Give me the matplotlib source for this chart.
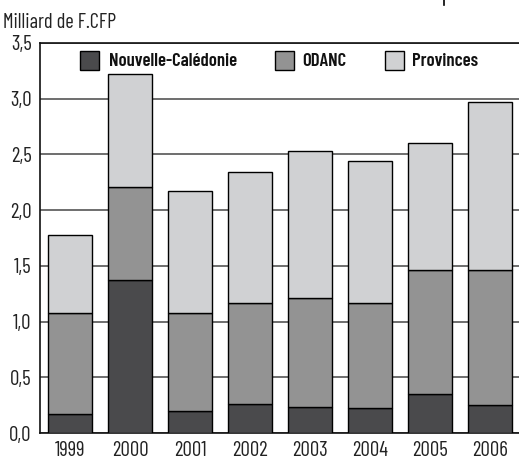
import matplotlib
matplotlib.use("Agg")
import matplotlib.pyplot as plt
from matplotlib.patches import Rectangle
from matplotlib import font_manager

years = ["1999", "2000", "2001", "2002", "2003", "2004", "2005", "2006"]
nouvelle_caledonie = [0.17, 1.37, 0.20, 0.26, 0.23, 0.22, 0.35, 0.25]
odanc = [0.905, 0.84, 0.88, 0.91, 0.98, 0.95, 1.11, 1.21]
provinces = [0.705, 1.01, 1.09, 1.17, 1.32, 1.27, 1.14, 1.51]
series_names = ["Nouvelle-Calédonie", "ODANC", "Provinces"]
yticks = [0.0, 0.5, 1.0, 1.5, 2.0, 2.5, 3.0, 3.5]
ylabel = "Milliard de F.CFP"

names = {f.name for f in font_manager.fontManager.ttflist}
def pick(cands):
    for c in cands:
        if c in names:
            return c
    return "DejaVu Sans"
reg_font = pick(["Barlow Condensed", "Archivo Narrow", "Liberation Sans"])
bold_font = pick(["Barlow Condensed", "IBM Plex Sans Condensed", "Liberation Sans"])
plt.rcParams["font.family"] = [reg_font, "DejaVu Sans"]

colors = ["#4a4a4c", "#939393", "#d0d1d3"]
W, H = 519, 461

fig = plt.figure(figsize=(W / 100, H / 100), dpi=100)
ax = fig.add_axes([40 / W, 28 / H, 480 / W, 390 / H])

x = list(range(len(years)))
bottom = [0.0] * len(years)
for vals, col in zip([nouvelle_caledonie, odanc, provinces], colors):
    ax.bar(x, vals, bottom=bottom, width=0.73, color=col, edgecolor="black",
           linewidth=1.0, zorder=3)
    bottom = [b + v for b, v in zip(bottom, vals)]

ax.set_xlim(-0.5, 7.5)
ax.set_ylim(0, 3.5)
ax.set_yticks(yticks)
ax.set_yticklabels([f"{t:.1f}".replace(".", ",") for t in yticks])
ax.set_xticks(x)
ax.set_xticklabels(years)
ax.tick_params(axis="both", length=0, labelsize=15, colors="#222222")
ax.tick_params(axis="x", pad=6)
ax.tick_params(axis="y", pad=6)
ax.yaxis.grid(True, color="#555555", linewidth=1.2, zorder=0)
ax.spines["right"].set_visible(False)
for s in ["left", "bottom", "top"]:
    ax.spines[s].set_linewidth(1.2)
    ax.spines[s].set_color("#111111")

fig.text(3 / W, 1 - 22 / H, ylabel, fontsize=14.7, va="center", ha="left",
         color="#222222")

# legend drawn manually in figure pixel positions
sq_x = [80, 275, 385]
tx_x = [109, 302, 412]
for sx, tx, col, name in zip(sq_x, tx_x, colors, series_names):
    fig.add_artist(Rectangle((sx / W, 1 - 70 / H), 19 / W, 19 / H, facecolor=col,
                             edgecolor="black", linewidth=1.0,
                             transform=fig.transFigure))
    fig.text(tx / W, 1 - 61 / H, name, fontsize=13.5, fontweight=600,
             family=[bold_font, "DejaVu Sans"], va="center", ha="left",
             color="#111111")

fig.add_artist(plt.Line2D([443.5 / W, 443.5 / W], [1.0, 1 - 5 / H],
                          color="black", linewidth=1.2, transform=fig.transFigure))

fig.savefig("out.png", dpi=100)
